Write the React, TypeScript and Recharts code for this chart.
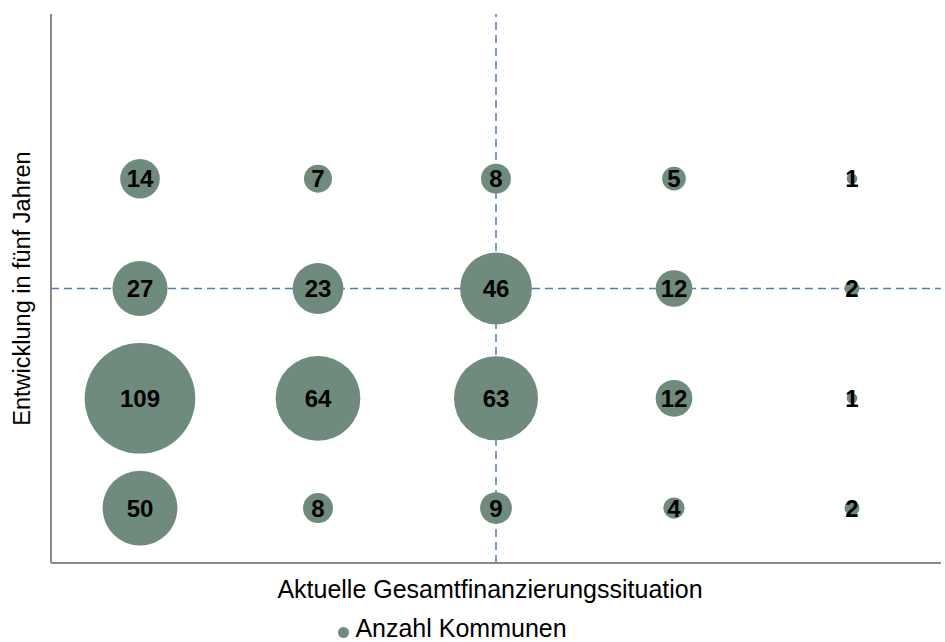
import {
  Label,
  LabelList,
  Legend,
  ReferenceLine,
  Scatter,
  ScatterChart,
  XAxis,
  YAxis,
  ZAxis,
} from "recharts";

// Spalten = aktuelle Gesamtfinanzierungssituation, Zeilen = Entwicklung in fünf Jahren
const xCategories = [1, 2, 3, 4, 5];
const yCategories = [4, 3, 2, 1];

const row4 = [14, 7, 8, 5, 1];
const row3 = [27, 23, 46, 12, 2];
const row2 = [109, 64, 63, 12, 1];
const row1 = [50, 8, 9, 4, 2];

const rows = [row4, row3, row2, row1];

const points = rows.flatMap((row, ri) =>
  row.map((v, ci) => ({ x: xCategories[ci], y: yCategories[ri], v }))
);

const BUBBLE = "#6E8B7D";
const DASH = "#4F7EBD";
const AXIS = "#8A8A8A";
const MAX_R = 55.3;
const FONT = "'Liberation Sans', Arial, sans-serif";

export default function App() {
  return (
    <div style={{ position: "absolute", left: 0, top: 0, fontFamily: FONT }}>
      <ScatterChart
        width={945}
        height={642}
        margin={{ top: 14, right: 4, left: 0, bottom: 0 }}
      >
        <XAxis
          type="number"
          dataKey="x"
          domain={[0.5, 5.5]}
          tick={false}
          tickLine={false}
          height={50}
          axisLine={{ stroke: AXIS, strokeWidth: 2 }}
        >
          <Label
            value="Aktuelle Gesamtfinanzierungssituation"
            position="center"
            dx={-6}
            dy={1}
            fontSize={25}
            fontFamily={FONT}
            fill="#000"
          />
        </XAxis>
        <YAxis
          type="number"
          dataKey="y"
          domain={[0.5, 5.5]}
          tick={false}
          tickLine={false}
          width={51}
          axisLine={{ stroke: AXIS, strokeWidth: 2 }}
        >
          <Label
            value="Entwicklung in fünf Jahren"
            angle={-90}
            position="center"
            dx={-4}
            fontSize={23.5}
            fontFamily={FONT}
            fill="#000"
          />
        </YAxis>
        <ZAxis
          type="number"
          dataKey="v"
          domain={[0, 109]}
          range={[0, Math.PI * MAX_R * MAX_R]}
        />
        <ReferenceLine x={3} stroke={DASH} strokeWidth={1.5} strokeDasharray="8 5" />
        <ReferenceLine y={3} stroke={DASH} strokeWidth={1.5} strokeDasharray="8 5" />
        <Scatter
          name="Anzahl Kommunen"
          data={points}
          fill={BUBBLE}
          legendType="circle"
          isAnimationActive={false}
        >
          <LabelList
            dataKey="v"
            position="center"
            fontSize={24}
            fontWeight={700}
            fontFamily={FONT}
            fill="#000"
          />
        </Scatter>
        <Legend
          verticalAlign="bottom"
          iconSize={11}
          wrapperStyle={{ fontFamily: FONT, left: -13, bottom: -1 }}
          formatter={(value) => (
            <span style={{ color: "#000", fontSize: 25, marginLeft: 2 }}>{value}</span>
          )}
        />
      </ScatterChart>
    </div>
  );
}
